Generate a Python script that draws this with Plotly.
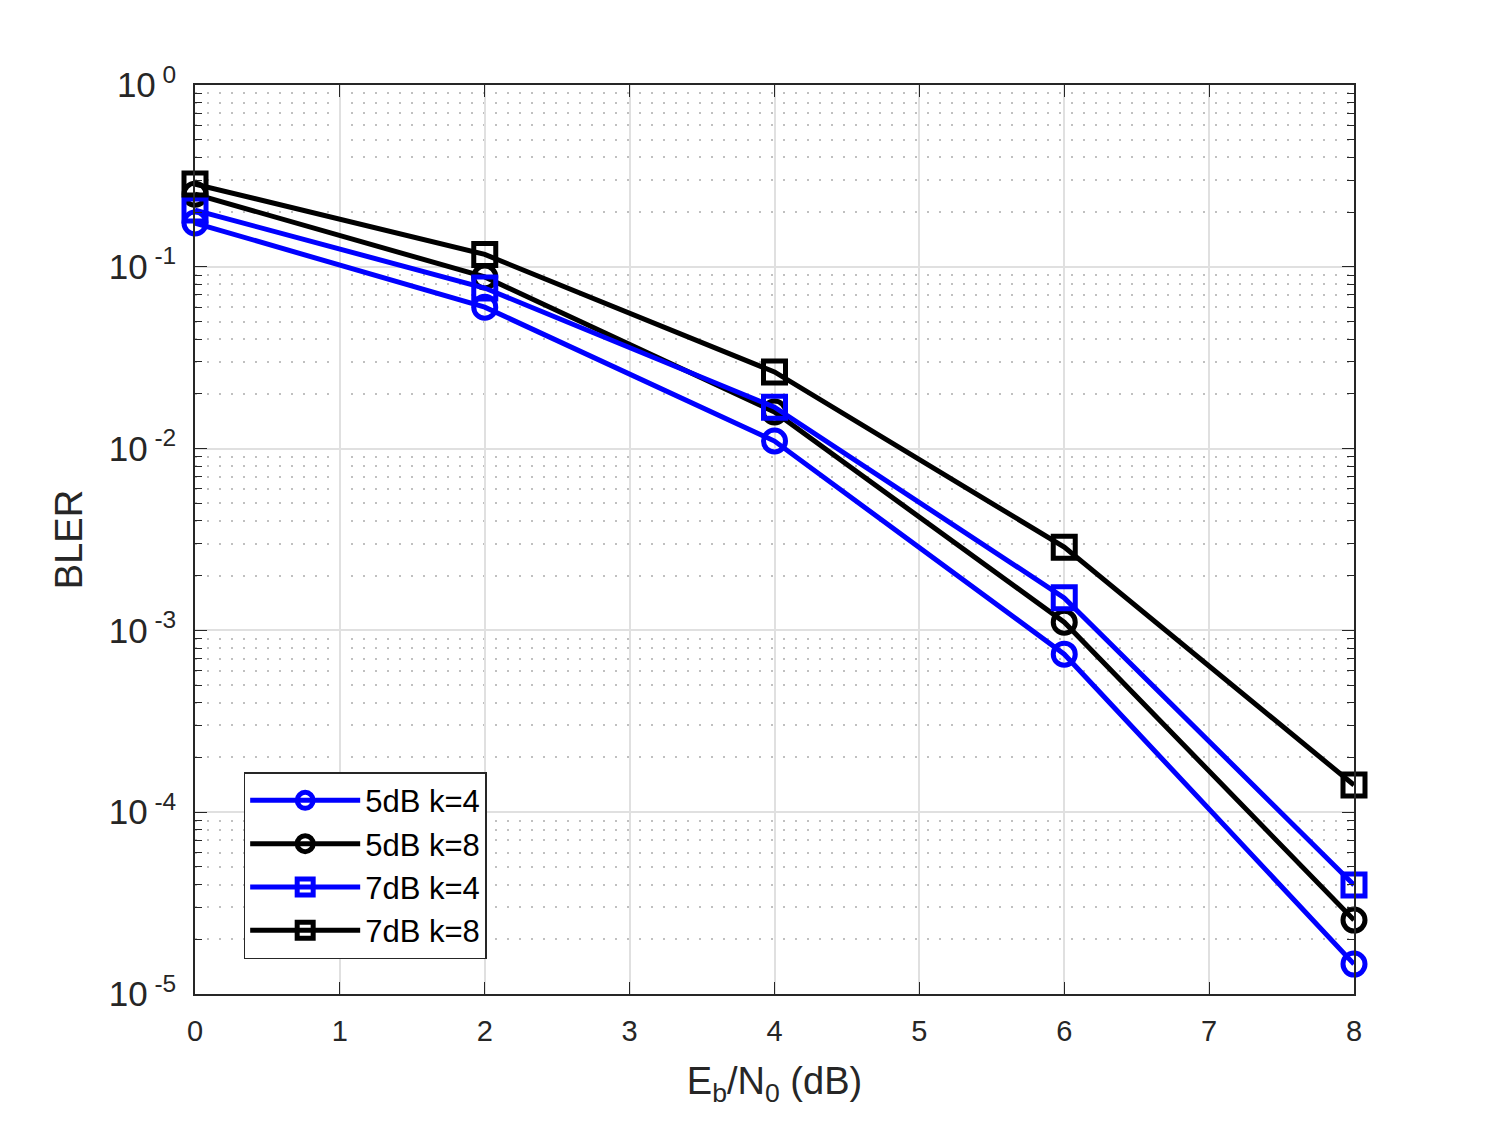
import plotly.graph_objects as go

ebn0 = [0, 2, 4, 6, 8]

bler_5db_k4 = [0.174, 0.060, 0.0110, 7.4e-4, 1.46e-5]
bler_5db_k8 = [0.251, 0.088, 0.0159, 1.11e-3, 2.55e-5]
bler_7db_k4 = [0.205, 0.0764, 0.0169, 1.51e-3, 3.98e-5]
bler_7db_k8 = [0.285, 0.117, 0.0264, 2.87e-3, 1.41e-4]

y_tickvals = [1e-5, 1e-4, 1e-3, 1e-2, 1e-1, 1]
y_ticktext = ["10<sup> -5</sup>", "10<sup> -4</sup>", "10<sup> -3</sup>",
              "10<sup> -2</sup>", "10<sup> -1</sup>", "10<sup> 0</sup>"]

series = [
    ("5dB k=4", bler_5db_k4, "blue", "circle-open"),
    ("5dB k=8", bler_5db_k8, "black", "circle-open"),
    ("7dB k=4", bler_7db_k4, "blue", "square-open"),
    ("7dB k=8", bler_7db_k8, "black", "square-open"),
]

fig = go.Figure()
for name, vals, col, sym in series:
    fig.add_trace(go.Scatter(
        x=ebn0, y=vals, name=name, mode="lines+markers",
        line=dict(color=col, width=5),
        marker=dict(symbol=sym, size=22, color=col, line=dict(width=5, color=col)),
        cliponaxis=False,
    ))

axis_col = "#262626"
fig.update_layout(
    width=1495, height=1121,
    paper_bgcolor="white", plot_bgcolor="white",
    margin=dict(l=187, r=149, t=77, b=135),
    font=dict(family="Liberation Sans, Arial, sans-serif", size=30, color=axis_col),
    showlegend=True,
    legend=dict(
        x=0.042, y=0.244, xanchor="left", yanchor="top",
        bgcolor="white", bordercolor=axis_col, borderwidth=1.5,
        font=dict(size=31, color="black"), itemwidth=110,
        tracegroupgap=0,
    ),
)
fig.update_xaxes(
    range=[0, 8], dtick=1, tick0=0,
    showline=True, linecolor=axis_col, linewidth=1.5, mirror="ticks",
    ticks="inside", ticklen=12, tickcolor=axis_col,
    tickfont=dict(size=29), ticklabelstandoff=10,
    showgrid=True, gridcolor="#e0e0e0", gridwidth=1.5,
    zeroline=False,
    title=dict(text="E<sub>b</sub>/N<sub>0</sub> (dB)", font=dict(size=38), standoff=22),
)
fig.update_yaxes(
    type="log", range=[-5, 0],
    tickvals=y_tickvals, ticktext=y_ticktext,
    showline=True, linecolor=axis_col, linewidth=1.5, mirror="ticks",
    ticks="inside", ticklen=12, tickcolor=axis_col,
    tickfont=dict(size=35), ticklabelstandoff=10,
    showgrid=True, gridcolor="#e0e0e0", gridwidth=1.5,
    zeroline=False,
    minor=dict(dtick="D1", ticks="inside", ticklen=7, tickcolor=axis_col,
               showgrid=True, gridcolor="#c0c0c0", griddash="2px,10px", gridwidth=1.5),
    title=dict(text="BLER", font=dict(size=38), standoff=14),
)

fig.write_html("out.html")
